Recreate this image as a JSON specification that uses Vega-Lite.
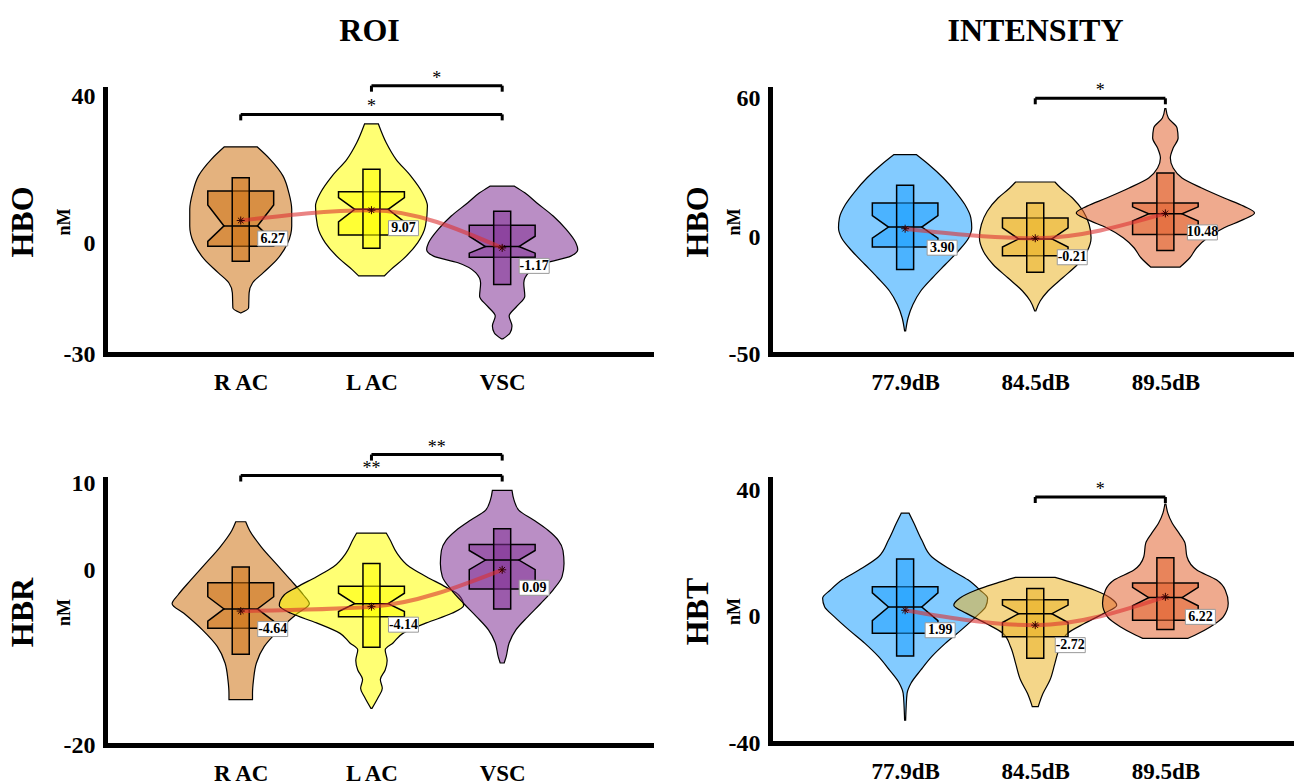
{
  "$schema": "https://vega.github.io/schema/vega-lite/v6.json",
  "background": "white",
  "padding": {"left": 6, "top": 14, "right": 0, "bottom": 0},
  "config": {
    "font": "Liberation Serif",
    "locale": {"number": {"decimal": ".", "thousands": ",", "grouping": [3], "currency": ["", ""], "minus": "-"}},
    "view": {"stroke": null},
    "axis": {
      "domainColor": "black", "domainWidth": 5, "domainCap": "square",
      "ticks": false, "tickSize": 0, "grid": false,
      "labelFont": "Liberation Serif", "labelFontWeight": "bold", "labelColor": "black",
      "titleFont": "Liberation Serif", "titleFontWeight": "bold", "titleColor": "black"
    },
    "axisX": {"labelFontSize": 23, "labelPadding": 17},
    "axisY": {"labelFontSize": 24, "labelPadding": 10, "titleFontSize": 18, "titlePadding": -10},
    "axisTop": {"domain": false, "labels": false, "titleFontSize": 32, "titlePadding": 42},
    "title": {"font": "Liberation Serif", "fontWeight": "bold", "color": "black"}
  },
  "columns": 2,
  "bounds": "flush",
  "spacing": {"row": 125, "column": 119},
  "resolve": {"scale": {"color": "independent"}},
  "concat": [
    {
      "width": 546, "height": 265,
      "resolve": {"axis": {"x": "independent", "y": "independent"}},
      "layer": [
        {
          "data": {"name": "roi_hbo_violin"},
          "mark": {"type": "area", "orient": "horizontal", "interpolate": "monotone", "fillOpacity": 0.55, "stroke": "black", "strokeWidth": 1.2},
          "encoding": {
            "y": {"field": "nM", "type": "quantitative", "scale": {"domain": [-30, 42], "nice": false, "zero": false}, "axis": {"values": [-30, 0, 40], "title": "nM"}},
            "x": {"field": "lo", "type": "quantitative", "scale": {"domain": [0, 4.1], "nice": false, "zero": false}, "axis": {"orient": "bottom", "values": [1, 2, 3], "labelExpr": "datum.value == 1 ? 'R AC' : datum.value == 2 ? 'L AC' : 'VSC'", "title": null}},
            "x2": {"field": "hi"},
            "color": {"field": "g", "type": "nominal", "scale": {"domain": ["R AC", "L AC", "VSC"], "range": ["#cd7314", "#ffff00", "#823296"]}, "legend": null}
          }
        },
        {
          "data": {"name": "roi_hbo_box"},
          "mark": {"type": "area", "orient": "horizontal", "interpolate": "linear", "fillOpacity": 0.55, "stroke": "black", "strokeWidth": 1.5},
          "encoding": {
            "y": {"field": "nM", "type": "quantitative", "axis": {"orient": "left", "title": "HBO", "domain": false, "labels": false, "offset": 66, "titlePadding": 0, "titleFontSize": 32}},
            "x": {"field": "lo", "type": "quantitative", "axis": {"orient": "top", "title": "ROI", "titleX": 264}},
            "x2": {"field": "hi"},
            "color": {"field": "g", "type": "nominal", "legend": null}
          }
        },
        {
          "data": {"name": "roi_hbo_stats"},
          "resolve": {"axis": {"x": "independent", "y": "independent"}},
          "layer": [
            {"mark": {"type": "bar", "width": 17, "fillOpacity": 0.55, "stroke": "black", "strokeWidth": 1.5},
             "encoding": {"x": {"field": "pos", "type": "quantitative", "axis": null}, "y": {"field": "p_lo", "type": "quantitative", "axis": null}, "y2": {"field": "p_hi"}, "color": {"field": "g", "type": "nominal", "legend": null}}},
            {"mark": {"type": "tick", "orient": "horizontal", "size": 34, "thickness": 1.5, "color": "black", "opacity": 1},
             "encoding": {"x": {"field": "pos", "type": "quantitative", "axis": null}, "y": {"field": "median", "type": "quantitative", "axis": null}}},
            {"mark": {"type": "line", "interpolate": "monotone", "color": "#dc3030", "strokeWidth": 4, "opacity": 0.6},
             "encoding": {"x": {"field": "pos", "type": "quantitative", "axis": null}, "y": {"field": "mean", "type": "quantitative", "axis": null}, "order": {"field": "pos"}}},
            {"mark": {"type": "point", "shape": "M-4,0H4M0,-4V4M-2.8,-2.8L2.8,2.8M-2.8,2.8L2.8,-2.8", "size": 4, "filled": false, "stroke": "#330000", "strokeWidth": 1, "opacity": 1},
             "encoding": {"x": {"field": "pos", "type": "quantitative", "axis": null}, "y": {"field": "mean", "type": "quantitative", "axis": null}}},
            {"mark": {"type": "point", "shape": "M17,10.5H47V25.5H17Z", "size": 4, "filled": true, "fill": "white", "stroke": "#9a9a9a", "strokeWidth": 1, "opacity": 1},
             "encoding": {"x": {"field": "pos", "type": "quantitative", "axis": null}, "y": {"field": "mean", "type": "quantitative", "axis": null}}},
            {"mark": {"type": "text", "dx": 32, "dy": 18, "align": "center", "baseline": "middle", "fontSize": 14, "fontWeight": "bold", "color": "black"},
             "encoding": {"x": {"field": "pos", "type": "quantitative", "axis": null}, "y": {"field": "mean", "type": "quantitative", "axis": null}, "text": {"field": "mean", "type": "quantitative", "format": ".2f"}}}
          ]
        },
        {
          "data": {"name": "roi_hbo_sig"},
          "resolve": {"axis": {"x": "independent", "y": "independent"}},
          "layer": [
            {"mark": {"type": "rule", "strokeWidth": 3, "color": "black"},
             "encoding": {"x": {"field": "from", "type": "quantitative", "axis": null}, "x2": {"field": "to"}, "y": {"field": "nM", "type": "quantitative", "axis": null}}},
            {"mark": {"type": "point", "shape": "M0,0V6", "size": 4, "filled": false, "stroke": "black", "strokeWidth": 3, "opacity": 1},
             "encoding": {"x": {"field": "from", "type": "quantitative", "axis": null}, "y": {"field": "nM", "type": "quantitative", "axis": null}}},
            {"mark": {"type": "point", "shape": "M0,0V6", "size": 4, "filled": false, "stroke": "black", "strokeWidth": 3, "opacity": 1},
             "encoding": {"x": {"field": "to", "type": "quantitative", "axis": null}, "y": {"field": "nM", "type": "quantitative", "axis": null}}},
            {"mark": {"type": "text", "baseline": "alphabetic", "dy": -2, "fontSize": 18, "color": "black"},
             "encoding": {"x": {"field": "mid", "type": "quantitative", "axis": null}, "y": {"field": "nM", "type": "quantitative", "axis": null}, "text": {"field": "sig"}}}
          ]
        }
      ]
    },
    {
      "width": 524, "height": 265,
      "resolve": {"axis": {"x": "independent", "y": "independent"}},
      "layer": [
        {
          "data": {"name": "int_hbo_violin"},
          "mark": {"type": "area", "orient": "horizontal", "interpolate": "monotone", "fillOpacity": 0.55, "stroke": "black", "strokeWidth": 1.2},
          "encoding": {
            "y": {"field": "nM", "type": "quantitative", "scale": {"domain": [-50, 64], "nice": false, "zero": false}, "axis": {"values": [-50, 0, 60], "title": "nM", "titlePadding": -15}},
            "x": {"field": "lo", "type": "quantitative", "scale": {"domain": [0, 3.95], "nice": false, "zero": false}, "axis": {"orient": "bottom", "values": [1, 2, 3], "labelExpr": "datum.value == 1 ? '77.9dB' : datum.value == 2 ? '84.5dB' : '89.5dB'", "title": null}},
            "x2": {"field": "hi"},
            "color": {"field": "g", "type": "nominal", "scale": {"domain": ["77.9dB", "84.5dB", "89.5dB"], "range": ["#1ea0ff", "#ebb428", "#e16432"]}, "legend": null}
          }
        },
        {
          "data": {"name": "int_hbo_box"},
          "mark": {"type": "area", "orient": "horizontal", "interpolate": "linear", "fillOpacity": 0.55, "stroke": "black", "strokeWidth": 1.5},
          "encoding": {
            "y": {"field": "nM", "type": "quantitative", "axis": {"orient": "left", "title": "HBO", "domain": false, "labels": false, "offset": 56, "titlePadding": 0, "titleFontSize": 32}},
            "x": {"field": "lo", "type": "quantitative", "axis": {"orient": "top", "title": "INTENSITY", "titleX": 265}},
            "x2": {"field": "hi"},
            "color": {"field": "g", "type": "nominal", "legend": null}
          }
        },
        {
          "data": {"name": "int_hbo_stats"},
          "resolve": {"axis": {"x": "independent", "y": "independent"}},
          "layer": [
            {"mark": {"type": "bar", "width": 17, "fillOpacity": 0.55, "stroke": "black", "strokeWidth": 1.5},
             "encoding": {"x": {"field": "pos", "type": "quantitative", "axis": null}, "y": {"field": "p_lo", "type": "quantitative", "axis": null}, "y2": {"field": "p_hi"}, "color": {"field": "g", "type": "nominal", "legend": null}}},
            {"mark": {"type": "tick", "orient": "horizontal", "size": 34, "thickness": 1.5, "color": "black", "opacity": 1},
             "encoding": {"x": {"field": "pos", "type": "quantitative", "axis": null}, "y": {"field": "median", "type": "quantitative", "axis": null}}},
            {"mark": {"type": "line", "interpolate": "monotone", "color": "#dc3030", "strokeWidth": 4, "opacity": 0.6},
             "encoding": {"x": {"field": "pos", "type": "quantitative", "axis": null}, "y": {"field": "mean", "type": "quantitative", "axis": null}, "order": {"field": "pos"}}},
            {"mark": {"type": "point", "shape": "M-4,0H4M0,-4V4M-2.8,-2.8L2.8,2.8M-2.8,2.8L2.8,-2.8", "size": 4, "filled": false, "stroke": "#330000", "strokeWidth": 1, "opacity": 1},
             "encoding": {"x": {"field": "pos", "type": "quantitative", "axis": null}, "y": {"field": "mean", "type": "quantitative", "axis": null}}},
            {"mark": {"type": "point", "shape": "M22,11.5H52V26.5H22Z", "size": 4, "filled": true, "fill": "white", "stroke": "#9a9a9a", "strokeWidth": 1, "opacity": 1},
             "encoding": {"x": {"field": "pos", "type": "quantitative", "axis": null}, "y": {"field": "mean", "type": "quantitative", "axis": null}}},
            {"mark": {"type": "text", "dx": 37, "dy": 19, "align": "center", "baseline": "middle", "fontSize": 14, "fontWeight": "bold", "color": "black"},
             "encoding": {"x": {"field": "pos", "type": "quantitative", "axis": null}, "y": {"field": "mean", "type": "quantitative", "axis": null}, "text": {"field": "mean", "type": "quantitative", "format": ".2f"}}}
          ]
        },
        {
          "data": {"name": "int_hbo_sig"},
          "resolve": {"axis": {"x": "independent", "y": "independent"}},
          "layer": [
            {"mark": {"type": "rule", "strokeWidth": 3, "color": "black"},
             "encoding": {"x": {"field": "from", "type": "quantitative", "axis": null}, "x2": {"field": "to"}, "y": {"field": "nM", "type": "quantitative", "axis": null}}},
            {"mark": {"type": "point", "shape": "M0,0V6", "size": 4, "filled": false, "stroke": "black", "strokeWidth": 3, "opacity": 1},
             "encoding": {"x": {"field": "from", "type": "quantitative", "axis": null}, "y": {"field": "nM", "type": "quantitative", "axis": null}}},
            {"mark": {"type": "point", "shape": "M0,0V6", "size": 4, "filled": false, "stroke": "black", "strokeWidth": 3, "opacity": 1},
             "encoding": {"x": {"field": "to", "type": "quantitative", "axis": null}, "y": {"field": "nM", "type": "quantitative", "axis": null}}},
            {"mark": {"type": "text", "baseline": "alphabetic", "dy": -2, "fontSize": 18, "color": "black"},
             "encoding": {"x": {"field": "mid", "type": "quantitative", "axis": null}, "y": {"field": "nM", "type": "quantitative", "axis": null}, "text": {"field": "sig"}}}
          ]
        }
      ]
    },
    {
      "width": 546, "height": 266,
      "resolve": {"axis": {"x": "independent", "y": "independent"}},
      "layer": [
        {
          "data": {"name": "roi_hbr_violin"},
          "mark": {"type": "area", "orient": "horizontal", "interpolate": "monotone", "fillOpacity": 0.55, "stroke": "black", "strokeWidth": 1.2},
          "encoding": {
            "y": {"field": "nM", "type": "quantitative", "scale": {"domain": [-20, 10.5], "nice": false, "zero": false}, "axis": {"values": [-20, 0, 10], "title": "nM"}},
            "x": {"field": "lo", "type": "quantitative", "scale": {"domain": [0, 4.1], "nice": false, "zero": false}, "axis": {"orient": "bottom", "values": [1, 2, 3], "labelExpr": "datum.value == 1 ? 'R AC' : datum.value == 2 ? 'L AC' : 'VSC'", "title": null}},
            "x2": {"field": "hi"},
            "color": {"field": "g", "type": "nominal", "scale": {"domain": ["R AC", "L AC", "VSC"], "range": ["#cd7314", "#ffff00", "#823296"]}, "legend": null}
          }
        },
        {
          "data": {"name": "roi_hbr_box"},
          "mark": {"type": "area", "orient": "horizontal", "interpolate": "linear", "fillOpacity": 0.55, "stroke": "black", "strokeWidth": 1.5},
          "encoding": {
            "y": {"field": "nM", "type": "quantitative", "axis": {"orient": "left", "title": "HBR", "domain": false, "labels": false, "offset": 66, "titlePadding": 0, "titleFontSize": 32}},
            "x": {"field": "lo", "type": "quantitative", "axis": null},
            "x2": {"field": "hi"},
            "color": {"field": "g", "type": "nominal", "legend": null}
          }
        },
        {
          "data": {"name": "roi_hbr_stats"},
          "resolve": {"axis": {"x": "independent", "y": "independent"}},
          "layer": [
            {"mark": {"type": "bar", "width": 17, "fillOpacity": 0.55, "stroke": "black", "strokeWidth": 1.5},
             "encoding": {"x": {"field": "pos", "type": "quantitative", "axis": null}, "y": {"field": "p_lo", "type": "quantitative", "axis": null}, "y2": {"field": "p_hi"}, "color": {"field": "g", "type": "nominal", "legend": null}}},
            {"mark": {"type": "tick", "orient": "horizontal", "size": 34, "thickness": 1.5, "color": "black", "opacity": 1},
             "encoding": {"x": {"field": "pos", "type": "quantitative", "axis": null}, "y": {"field": "median", "type": "quantitative", "axis": null}}},
            {"mark": {"type": "line", "interpolate": "monotone", "color": "#dc3030", "strokeWidth": 4, "opacity": 0.6},
             "encoding": {"x": {"field": "pos", "type": "quantitative", "axis": null}, "y": {"field": "mean", "type": "quantitative", "axis": null}, "order": {"field": "pos"}}},
            {"mark": {"type": "point", "shape": "M-4,0H4M0,-4V4M-2.8,-2.8L2.8,2.8M-2.8,2.8L2.8,-2.8", "size": 4, "filled": false, "stroke": "#330000", "strokeWidth": 1, "opacity": 1},
             "encoding": {"x": {"field": "pos", "type": "quantitative", "axis": null}, "y": {"field": "mean", "type": "quantitative", "axis": null}}},
            {"mark": {"type": "point", "shape": "M17,10.5H47V25.5H17Z", "size": 4, "filled": true, "fill": "white", "stroke": "#9a9a9a", "strokeWidth": 1, "opacity": 1},
             "encoding": {"x": {"field": "pos", "type": "quantitative", "axis": null}, "y": {"field": "mean", "type": "quantitative", "axis": null}}},
            {"mark": {"type": "text", "dx": 32, "dy": 18, "align": "center", "baseline": "middle", "fontSize": 14, "fontWeight": "bold", "color": "black"},
             "encoding": {"x": {"field": "pos", "type": "quantitative", "axis": null}, "y": {"field": "mean", "type": "quantitative", "axis": null}, "text": {"field": "mean", "type": "quantitative", "format": ".2f"}}}
          ]
        },
        {
          "data": {"name": "roi_hbr_sig"},
          "resolve": {"axis": {"x": "independent", "y": "independent"}},
          "layer": [
            {"mark": {"type": "rule", "strokeWidth": 3, "color": "black"},
             "encoding": {"x": {"field": "from", "type": "quantitative", "axis": null}, "x2": {"field": "to"}, "y": {"field": "nM", "type": "quantitative", "axis": null}}},
            {"mark": {"type": "point", "shape": "M0,0V6", "size": 4, "filled": false, "stroke": "black", "strokeWidth": 3, "opacity": 1},
             "encoding": {"x": {"field": "from", "type": "quantitative", "axis": null}, "y": {"field": "nM", "type": "quantitative", "axis": null}}},
            {"mark": {"type": "point", "shape": "M0,0V6", "size": 4, "filled": false, "stroke": "black", "strokeWidth": 3, "opacity": 1},
             "encoding": {"x": {"field": "to", "type": "quantitative", "axis": null}, "y": {"field": "nM", "type": "quantitative", "axis": null}}},
            {"mark": {"type": "text", "baseline": "alphabetic", "dy": -2, "fontSize": 18, "color": "black"},
             "encoding": {"x": {"field": "mid", "type": "quantitative", "axis": null}, "y": {"field": "nM", "type": "quantitative", "axis": null}, "text": {"field": "sig"}}}
          ]
        }
      ]
    },
    {
      "width": 524, "height": 264,
      "resolve": {"axis": {"x": "independent", "y": "independent"}},
      "layer": [
        {
          "data": {"name": "int_hbt_violin"},
          "mark": {"type": "area", "orient": "horizontal", "interpolate": "monotone", "fillOpacity": 0.55, "stroke": "black", "strokeWidth": 1.2},
          "encoding": {
            "y": {"field": "nM", "type": "quantitative", "scale": {"domain": [-40, 43.5], "nice": false, "zero": false}, "axis": {"values": [-40, 0, 40], "title": "nM", "titlePadding": -15}},
            "x": {"field": "lo", "type": "quantitative", "scale": {"domain": [0, 3.95], "nice": false, "zero": false}, "axis": {"orient": "bottom", "values": [1, 2, 3], "labelExpr": "datum.value == 1 ? '77.9dB' : datum.value == 2 ? '84.5dB' : '89.5dB'", "title": null}},
            "x2": {"field": "hi"},
            "color": {"field": "g", "type": "nominal", "scale": {"domain": ["77.9dB", "84.5dB", "89.5dB"], "range": ["#1ea0ff", "#ebb428", "#e16432"]}, "legend": null}
          }
        },
        {
          "data": {"name": "int_hbt_box"},
          "mark": {"type": "area", "orient": "horizontal", "interpolate": "linear", "fillOpacity": 0.55, "stroke": "black", "strokeWidth": 1.5},
          "encoding": {
            "y": {"field": "nM", "type": "quantitative", "axis": {"orient": "left", "title": "HBT", "domain": false, "labels": false, "offset": 56, "titlePadding": 0, "titleFontSize": 32}},
            "x": {"field": "lo", "type": "quantitative", "axis": null},
            "x2": {"field": "hi"},
            "color": {"field": "g", "type": "nominal", "legend": null}
          }
        },
        {
          "data": {"name": "int_hbt_stats"},
          "resolve": {"axis": {"x": "independent", "y": "independent"}},
          "layer": [
            {"mark": {"type": "bar", "width": 17, "fillOpacity": 0.55, "stroke": "black", "strokeWidth": 1.5},
             "encoding": {"x": {"field": "pos", "type": "quantitative", "axis": null}, "y": {"field": "p_lo", "type": "quantitative", "axis": null}, "y2": {"field": "p_hi"}, "color": {"field": "g", "type": "nominal", "legend": null}}},
            {"mark": {"type": "tick", "orient": "horizontal", "size": 34, "thickness": 1.5, "color": "black", "opacity": 1},
             "encoding": {"x": {"field": "pos", "type": "quantitative", "axis": null}, "y": {"field": "median", "type": "quantitative", "axis": null}}},
            {"mark": {"type": "line", "interpolate": "monotone", "color": "#dc3030", "strokeWidth": 4, "opacity": 0.6},
             "encoding": {"x": {"field": "pos", "type": "quantitative", "axis": null}, "y": {"field": "mean", "type": "quantitative", "axis": null}, "order": {"field": "pos"}}},
            {"mark": {"type": "point", "shape": "M-4,0H4M0,-4V4M-2.8,-2.8L2.8,2.8M-2.8,2.8L2.8,-2.8", "size": 4, "filled": false, "stroke": "#330000", "strokeWidth": 1, "opacity": 1},
             "encoding": {"x": {"field": "pos", "type": "quantitative", "axis": null}, "y": {"field": "mean", "type": "quantitative", "axis": null}}},
            {"mark": {"type": "point", "shape": "M20,12.5H50V27.5H20Z", "size": 4, "filled": true, "fill": "white", "stroke": "#9a9a9a", "strokeWidth": 1, "opacity": 1},
             "encoding": {"x": {"field": "pos", "type": "quantitative", "axis": null}, "y": {"field": "mean", "type": "quantitative", "axis": null}}},
            {"mark": {"type": "text", "dx": 35, "dy": 20, "align": "center", "baseline": "middle", "fontSize": 14, "fontWeight": "bold", "color": "black"},
             "encoding": {"x": {"field": "pos", "type": "quantitative", "axis": null}, "y": {"field": "mean", "type": "quantitative", "axis": null}, "text": {"field": "mean", "type": "quantitative", "format": ".2f"}}}
          ]
        },
        {
          "data": {"name": "int_hbt_sig"},
          "resolve": {"axis": {"x": "independent", "y": "independent"}},
          "layer": [
            {"mark": {"type": "rule", "strokeWidth": 3, "color": "black"},
             "encoding": {"x": {"field": "from", "type": "quantitative", "axis": null}, "x2": {"field": "to"}, "y": {"field": "nM", "type": "quantitative", "axis": null}}},
            {"mark": {"type": "point", "shape": "M0,0V6", "size": 4, "filled": false, "stroke": "black", "strokeWidth": 3, "opacity": 1},
             "encoding": {"x": {"field": "from", "type": "quantitative", "axis": null}, "y": {"field": "nM", "type": "quantitative", "axis": null}}},
            {"mark": {"type": "point", "shape": "M0,0V6", "size": 4, "filled": false, "stroke": "black", "strokeWidth": 3, "opacity": 1},
             "encoding": {"x": {"field": "to", "type": "quantitative", "axis": null}, "y": {"field": "nM", "type": "quantitative", "axis": null}}},
            {"mark": {"type": "text", "baseline": "alphabetic", "dy": -2, "fontSize": 18, "color": "black"},
             "encoding": {"x": {"field": "mid", "type": "quantitative", "axis": null}, "y": {"field": "nM", "type": "quantitative", "axis": null}, "text": {"field": "sig"}}}
          ]
        }
      ]
    }
  ],
  "datasets": {
    "roi_hbo_violin": [
      {"g": "R AC", "nM": 26.3, "lo": 0.875, "hi": 1.125},
      {"g": "R AC", "nM": 22.9, "lo": 0.775, "hi": 1.225},
      {"g": "R AC", "nM": 18.4, "lo": 0.677, "hi": 1.323},
      {"g": "R AC", "nM": 13.8, "lo": 0.632, "hi": 1.368},
      {"g": "R AC", "nM": 9.3, "lo": 0.61, "hi": 1.39},
      {"g": "R AC", "nM": 4.8, "lo": 0.61, "hi": 1.39},
      {"g": "R AC", "nM": 0.2, "lo": 0.64, "hi": 1.36},
      {"g": "R AC", "nM": -4.3, "lo": 0.722, "hi": 1.278},
      {"g": "R AC", "nM": -7.9, "lo": 0.827, "hi": 1.173},
      {"g": "R AC", "nM": -10.7, "lo": 0.91, "hi": 1.09},
      {"g": "R AC", "nM": -13.4, "lo": 0.936, "hi": 1.064},
      {"g": "R AC", "nM": -17.5, "lo": 0.94, "hi": 1.06},
      {"g": "R AC", "nM": -18.8, "lo": 0.996, "hi": 1.004},
      {"g": "L AC", "nM": 32.5, "lo": 1.947, "hi": 2.053},
      {"g": "L AC", "nM": 27.4, "lo": 1.887, "hi": 2.113},
      {"g": "L AC", "nM": 22.9, "lo": 1.812, "hi": 2.188},
      {"g": "L AC", "nM": 18.4, "lo": 1.7, "hi": 2.3},
      {"g": "L AC", "nM": 13.8, "lo": 1.61, "hi": 2.39},
      {"g": "L AC", "nM": 10.2, "lo": 1.572, "hi": 2.428},
      {"g": "L AC", "nM": 4.8, "lo": 1.587, "hi": 2.413},
      {"g": "L AC", "nM": 0.2, "lo": 1.647, "hi": 2.353},
      {"g": "L AC", "nM": -4.3, "lo": 1.76, "hi": 2.24},
      {"g": "L AC", "nM": -7.0, "lo": 1.85, "hi": 2.15},
      {"g": "L AC", "nM": -8.8, "lo": 1.902, "hi": 2.098},
      {"g": "VSC", "nM": 15.6, "lo": 2.906, "hi": 3.094},
      {"g": "VSC", "nM": 13.8, "lo": 2.827, "hi": 3.173},
      {"g": "VSC", "nM": 11.1, "lo": 2.737, "hi": 3.263},
      {"g": "VSC", "nM": 7.5, "lo": 2.61, "hi": 3.39},
      {"g": "VSC", "nM": 3.9, "lo": 2.512, "hi": 3.488},
      {"g": "VSC", "nM": 0.2, "lo": 2.437, "hi": 3.563},
      {"g": "VSC", "nM": -1.6, "lo": 2.422, "hi": 3.578},
      {"g": "VSC", "nM": -3.4, "lo": 2.475, "hi": 3.525},
      {"g": "VSC", "nM": -5.2, "lo": 2.662, "hi": 3.338},
      {"g": "VSC", "nM": -7.9, "lo": 2.797, "hi": 3.203},
      {"g": "VSC", "nM": -10.7, "lo": 2.835, "hi": 3.165},
      {"g": "VSC", "nM": -14.3, "lo": 2.827, "hi": 3.173},
      {"g": "VSC", "nM": -17.0, "lo": 2.887, "hi": 3.113},
      {"g": "VSC", "nM": -19.7, "lo": 2.947, "hi": 3.053},
      {"g": "VSC", "nM": -22.4, "lo": 2.925, "hi": 3.075},
      {"g": "VSC", "nM": -24.3, "lo": 2.94, "hi": 3.06},
      {"g": "VSC", "nM": -25.9, "lo": 2.996, "hi": 3.004}
    ],
    "roi_hbo_box": [
      {"g": "R AC", "nM": 14.3, "lo": 0.748, "hi": 1.252},
      {"g": "R AC", "nM": 10.5, "lo": 0.748, "hi": 1.252},
      {"g": "R AC", "nM": 4.8, "lo": 0.872, "hi": 1.128},
      {"g": "R AC", "nM": 0.6, "lo": 0.748, "hi": 1.252},
      {"g": "R AC", "nM": -0.7, "lo": 0.748, "hi": 1.252},
      {"g": "L AC", "nM": 14.1, "lo": 1.748, "hi": 2.252},
      {"g": "L AC", "nM": 12.5, "lo": 1.748, "hi": 2.252},
      {"g": "L AC", "nM": 9.3, "lo": 1.872, "hi": 2.128},
      {"g": "L AC", "nM": 5.9, "lo": 1.748, "hi": 2.252},
      {"g": "L AC", "nM": 2.3, "lo": 1.748, "hi": 2.252},
      {"g": "VSC", "nM": 5.0, "lo": 2.748, "hi": 3.252},
      {"g": "VSC", "nM": 2.0, "lo": 2.748, "hi": 3.252},
      {"g": "VSC", "nM": -0.8, "lo": 2.872, "hi": 3.128},
      {"g": "VSC", "nM": -2.6, "lo": 2.748, "hi": 3.252},
      {"g": "VSC", "nM": -3.7, "lo": 2.748, "hi": 3.252}
    ],
    "roi_hbo_stats": [
      {"g": "R AC", "pos": 1, "mean": 6.27, "median": 4.8, "p_lo": -4.8, "p_hi": 17.9},
      {"g": "L AC", "pos": 2, "mean": 9.07, "median": 9.3, "p_lo": -1.3, "p_hi": 20.2},
      {"g": "VSC", "pos": 3, "mean": -1.17, "median": -0.8, "p_lo": -11.1, "p_hi": 8.8}
    ],
    "roi_hbo_sig": [
      {"from": 2, "to": 3, "mid": 2.5, "nM": 42.9, "sig": "*"},
      {"from": 1, "to": 3, "mid": 2, "nM": 35.1, "sig": "*"}
    ],
    "int_hbo_violin": [
      {"g": "77.9dB", "nM": 35.8, "lo": 0.915, "hi": 1.085},
      {"g": "77.9dB", "nM": 31.5, "lo": 0.819, "hi": 1.181},
      {"g": "77.9dB", "nM": 25.7, "lo": 0.706, "hi": 1.294},
      {"g": "77.9dB", "nM": 20.0, "lo": 0.616, "hi": 1.384},
      {"g": "77.9dB", "nM": 14.3, "lo": 0.541, "hi": 1.459},
      {"g": "77.9dB", "nM": 8.6, "lo": 0.495, "hi": 1.505},
      {"g": "77.9dB", "nM": 4.3, "lo": 0.488, "hi": 1.512},
      {"g": "77.9dB", "nM": 0, "lo": 0.511, "hi": 1.489},
      {"g": "77.9dB", "nM": -5.8, "lo": 0.593, "hi": 1.407},
      {"g": "77.9dB", "nM": -11.5, "lo": 0.691, "hi": 1.309},
      {"g": "77.9dB", "nM": -17.2, "lo": 0.789, "hi": 1.211},
      {"g": "77.9dB", "nM": -22.9, "lo": 0.88, "hi": 1.12},
      {"g": "77.9dB", "nM": -28.7, "lo": 0.94, "hi": 1.06},
      {"g": "77.9dB", "nM": -34.4, "lo": 0.977, "hi": 1.023},
      {"g": "77.9dB", "nM": -40.1, "lo": 0.996, "hi": 1.004},
      {"g": "84.5dB", "nM": 24.0, "lo": 1.849, "hi": 2.151},
      {"g": "84.5dB", "nM": 21.4, "lo": 1.804, "hi": 2.196},
      {"g": "84.5dB", "nM": 17.1, "lo": 1.714, "hi": 2.286},
      {"g": "84.5dB", "nM": 11.4, "lo": 1.631, "hi": 2.369},
      {"g": "84.5dB", "nM": 5.7, "lo": 1.586, "hi": 2.414},
      {"g": "84.5dB", "nM": 0, "lo": 1.571, "hi": 2.429},
      {"g": "84.5dB", "nM": -5.8, "lo": 1.601, "hi": 2.399},
      {"g": "84.5dB", "nM": -11.5, "lo": 1.676, "hi": 2.324},
      {"g": "84.5dB", "nM": -17.2, "lo": 1.789, "hi": 2.211},
      {"g": "84.5dB", "nM": -22.9, "lo": 1.902, "hi": 2.098},
      {"g": "84.5dB", "nM": -27.2, "lo": 1.962, "hi": 2.038},
      {"g": "84.5dB", "nM": -31.5, "lo": 1.996, "hi": 2.004},
      {"g": "89.5dB", "nM": 55.6, "lo": 2.996, "hi": 3.004},
      {"g": "89.5dB", "nM": 51.5, "lo": 2.977, "hi": 3.023},
      {"g": "89.5dB", "nM": 47.2, "lo": 2.91, "hi": 3.09},
      {"g": "89.5dB", "nM": 42.9, "lo": 2.902, "hi": 3.098},
      {"g": "89.5dB", "nM": 38.6, "lo": 2.94, "hi": 3.06},
      {"g": "89.5dB", "nM": 34.3, "lo": 2.962, "hi": 3.038},
      {"g": "89.5dB", "nM": 30.0, "lo": 2.94, "hi": 3.06},
      {"g": "89.5dB", "nM": 25.7, "lo": 2.872, "hi": 3.128},
      {"g": "89.5dB", "nM": 21.4, "lo": 2.721, "hi": 3.279},
      {"g": "89.5dB", "nM": 17.1, "lo": 2.548, "hi": 3.452},
      {"g": "89.5dB", "nM": 13.6, "lo": 2.398, "hi": 3.602},
      {"g": "89.5dB", "nM": 10.7, "lo": 2.315, "hi": 3.685},
      {"g": "89.5dB", "nM": 7.9, "lo": 2.398, "hi": 3.602},
      {"g": "89.5dB", "nM": 4.3, "lo": 2.548, "hi": 3.452},
      {"g": "89.5dB", "nM": 0, "lo": 2.676, "hi": 3.324},
      {"g": "89.5dB", "nM": -4.3, "lo": 2.759, "hi": 3.241},
      {"g": "89.5dB", "nM": -8.6, "lo": 2.812, "hi": 3.188},
      {"g": "89.5dB", "nM": -12.6, "lo": 2.887, "hi": 3.113}
    ],
    "int_hbo_box": [
      {"g": "77.9dB", "nM": 15.0, "lo": 0.748, "hi": 1.252},
      {"g": "77.9dB", "nM": 9.5, "lo": 0.748, "hi": 1.252},
      {"g": "77.9dB", "nM": 4.6, "lo": 0.872, "hi": 1.128},
      {"g": "77.9dB", "nM": -0.2, "lo": 0.748, "hi": 1.252},
      {"g": "77.9dB", "nM": -4.0, "lo": 0.748, "hi": 1.252},
      {"g": "84.5dB", "nM": 8.5, "lo": 1.748, "hi": 2.252},
      {"g": "84.5dB", "nM": 4.3, "lo": 1.748, "hi": 2.252},
      {"g": "84.5dB", "nM": -0.5, "lo": 1.872, "hi": 2.128},
      {"g": "84.5dB", "nM": -4.0, "lo": 1.748, "hi": 2.252},
      {"g": "84.5dB", "nM": -7.7, "lo": 1.748, "hi": 2.252},
      {"g": "89.5dB", "nM": 15.0, "lo": 2.748, "hi": 3.252},
      {"g": "89.5dB", "nM": 13.3, "lo": 2.748, "hi": 3.252},
      {"g": "89.5dB", "nM": 10.3, "lo": 2.872, "hi": 3.128},
      {"g": "89.5dB", "nM": 7.2, "lo": 2.748, "hi": 3.252},
      {"g": "89.5dB", "nM": 1.4, "lo": 2.748, "hi": 3.252}
    ],
    "int_hbo_stats": [
      {"g": "77.9dB", "pos": 1, "mean": 3.90, "median": 4.6, "p_lo": -13.6, "p_hi": 22.6},
      {"g": "84.5dB", "pos": 2, "mean": -0.21, "median": -0.5, "p_lo": -14.8, "p_hi": 15.0},
      {"g": "89.5dB", "pos": 3, "mean": 10.48, "median": 10.3, "p_lo": -5.5, "p_hi": 27.9}
    ],
    "int_hbo_sig": [
      {"from": 2, "to": 3, "mid": 2.5, "nM": 60.0, "sig": "*"}
    ],
    "roi_hbr_violin": [
      {"g": "R AC", "nM": 5.6, "lo": 0.962, "hi": 1.038},
      {"g": "R AC", "nM": 4.6, "lo": 0.932, "hi": 1.068},
      {"g": "R AC", "nM": 2.7, "lo": 0.842, "hi": 1.158},
      {"g": "R AC", "nM": 0.8, "lo": 0.73, "hi": 1.27},
      {"g": "R AC", "nM": -1.1, "lo": 0.617, "hi": 1.383},
      {"g": "R AC", "nM": -2.8, "lo": 0.52, "hi": 1.48},
      {"g": "R AC", "nM": -3.8, "lo": 0.475, "hi": 1.525},
      {"g": "R AC", "nM": -4.9, "lo": 0.565, "hi": 1.435},
      {"g": "R AC", "nM": -6.8, "lo": 0.707, "hi": 1.293},
      {"g": "R AC", "nM": -8.7, "lo": 0.82, "hi": 1.18},
      {"g": "R AC", "nM": -10.6, "lo": 0.88, "hi": 1.12},
      {"g": "R AC", "nM": -12.5, "lo": 0.902, "hi": 1.098},
      {"g": "R AC", "nM": -14.1, "lo": 0.91, "hi": 1.09},
      {"g": "R AC", "nM": -14.8, "lo": 0.91, "hi": 1.09},
      {"g": "L AC", "nM": 4.3, "lo": 1.887, "hi": 2.113},
      {"g": "L AC", "nM": 3.5, "lo": 1.857, "hi": 2.143},
      {"g": "L AC", "nM": 2.0, "lo": 1.805, "hi": 2.195},
      {"g": "L AC", "nM": 0.4, "lo": 1.707, "hi": 2.293},
      {"g": "L AC", "nM": -0.7, "lo": 1.58, "hi": 2.42},
      {"g": "L AC", "nM": -1.9, "lo": 1.43, "hi": 2.57},
      {"g": "L AC", "nM": -2.8, "lo": 1.332, "hi": 2.668},
      {"g": "L AC", "nM": -4.0, "lo": 1.295, "hi": 2.705},
      {"g": "L AC", "nM": -4.9, "lo": 1.385, "hi": 2.615},
      {"g": "L AC", "nM": -6.0, "lo": 1.58, "hi": 2.42},
      {"g": "L AC", "nM": -7.2, "lo": 1.76, "hi": 2.24},
      {"g": "L AC", "nM": -8.3, "lo": 1.835, "hi": 2.165},
      {"g": "L AC", "nM": -9.1, "lo": 1.895, "hi": 2.105},
      {"g": "L AC", "nM": -10.3, "lo": 1.88, "hi": 2.12},
      {"g": "L AC", "nM": -11.4, "lo": 1.895, "hi": 2.105},
      {"g": "L AC", "nM": -12.5, "lo": 1.932, "hi": 2.068},
      {"g": "L AC", "nM": -13.5, "lo": 1.917, "hi": 2.083},
      {"g": "L AC", "nM": -14.5, "lo": 1.947, "hi": 2.053},
      {"g": "L AC", "nM": -15.8, "lo": 1.996, "hi": 2.004},
      {"g": "VSC", "nM": 9.2, "lo": 2.925, "hi": 3.075},
      {"g": "VSC", "nM": 8.1, "lo": 2.91, "hi": 3.09},
      {"g": "VSC", "nM": 6.9, "lo": 2.872, "hi": 3.128},
      {"g": "VSC", "nM": 5.8, "lo": 2.76, "hi": 3.24},
      {"g": "VSC", "nM": 4.6, "lo": 2.647, "hi": 3.353},
      {"g": "VSC", "nM": 3.5, "lo": 2.572, "hi": 3.428},
      {"g": "VSC", "nM": 2.3, "lo": 2.535, "hi": 3.465},
      {"g": "VSC", "nM": 0.8, "lo": 2.527, "hi": 3.473},
      {"g": "VSC", "nM": -0.7, "lo": 2.542, "hi": 3.458},
      {"g": "VSC", "nM": -2.2, "lo": 2.61, "hi": 3.39},
      {"g": "VSC", "nM": -3.8, "lo": 2.707, "hi": 3.293},
      {"g": "VSC", "nM": -5.3, "lo": 2.805, "hi": 3.195},
      {"g": "VSC", "nM": -6.8, "lo": 2.895, "hi": 3.105},
      {"g": "VSC", "nM": -8.3, "lo": 2.947, "hi": 3.053},
      {"g": "VSC", "nM": -9.9, "lo": 2.97, "hi": 3.03},
      {"g": "VSC", "nM": -10.6, "lo": 2.985, "hi": 3.015}
    ],
    "roi_hbr_box": [
      {"g": "R AC", "nM": -1.4, "lo": 0.748, "hi": 1.252},
      {"g": "R AC", "nM": -3.0, "lo": 0.748, "hi": 1.252},
      {"g": "R AC", "nM": -4.4, "lo": 0.872, "hi": 1.128},
      {"g": "R AC", "nM": -5.8, "lo": 0.748, "hi": 1.252},
      {"g": "R AC", "nM": -6.6, "lo": 0.748, "hi": 1.252},
      {"g": "L AC", "nM": -1.8, "lo": 1.748, "hi": 2.252},
      {"g": "L AC", "nM": -2.6, "lo": 1.748, "hi": 2.252},
      {"g": "L AC", "nM": -3.8, "lo": 1.872, "hi": 2.128},
      {"g": "L AC", "nM": -4.7, "lo": 1.748, "hi": 2.252},
      {"g": "L AC", "nM": -5.3, "lo": 1.748, "hi": 2.252},
      {"g": "VSC", "nM": 3.0, "lo": 2.748, "hi": 3.252},
      {"g": "VSC", "nM": 2.3, "lo": 2.748, "hi": 3.252},
      {"g": "VSC", "nM": 1.2, "lo": 2.872, "hi": 3.128},
      {"g": "VSC", "nM": 0.1, "lo": 2.748, "hi": 3.252},
      {"g": "VSC", "nM": -2.1, "lo": 2.748, "hi": 3.252}
    ],
    "roi_hbr_stats": [
      {"g": "R AC", "pos": 1, "mean": -4.64, "median": -4.4, "p_lo": -9.6, "p_hi": 0.4},
      {"g": "L AC", "pos": 2, "mean": -4.14, "median": -3.8, "p_lo": -8.8, "p_hi": 0.8},
      {"g": "VSC", "pos": 3, "mean": 0.09, "median": 1.2, "p_lo": -4.4, "p_hi": 4.8}
    ],
    "roi_hbr_sig": [
      {"from": 2, "to": 3, "mid": 2.5, "nM": 13.3, "sig": "**"},
      {"from": 1, "to": 3, "mid": 2, "nM": 10.9, "sig": "**"}
    ],
    "int_hbt_violin": [
      {"g": "77.9dB", "nM": 32.7, "lo": 0.97, "hi": 1.03},
      {"g": "77.9dB", "nM": 29.5, "lo": 0.932, "hi": 1.068},
      {"g": "77.9dB", "nM": 24.2, "lo": 0.872, "hi": 1.128},
      {"g": "77.9dB", "nM": 18.9, "lo": 0.796, "hi": 1.204},
      {"g": "77.9dB", "nM": 14.7, "lo": 0.645, "hi": 1.355},
      {"g": "77.9dB", "nM": 11.6, "lo": 0.517, "hi": 1.483},
      {"g": "77.9dB", "nM": 8.4, "lo": 0.426, "hi": 1.574},
      {"g": "77.9dB", "nM": 5.8, "lo": 0.366, "hi": 1.634},
      {"g": "77.9dB", "nM": 3.1, "lo": 0.381, "hi": 1.619},
      {"g": "77.9dB", "nM": -0.1, "lo": 0.457, "hi": 1.543},
      {"g": "77.9dB", "nM": -4.3, "lo": 0.57, "hi": 1.43},
      {"g": "77.9dB", "nM": -8.5, "lo": 0.691, "hi": 1.309},
      {"g": "77.9dB", "nM": -12.7, "lo": 0.796, "hi": 1.204},
      {"g": "77.9dB", "nM": -16.9, "lo": 0.879, "hi": 1.121},
      {"g": "77.9dB", "nM": -21.1, "lo": 0.955, "hi": 1.045},
      {"g": "77.9dB", "nM": -24.3, "lo": 0.985, "hi": 1.015},
      {"g": "77.9dB", "nM": -28.5, "lo": 0.992, "hi": 1.008},
      {"g": "77.9dB", "nM": -32.8, "lo": 0.996, "hi": 1.004},
      {"g": "84.5dB", "nM": 12.4, "lo": 1.849, "hi": 2.151},
      {"g": "84.5dB", "nM": 10.5, "lo": 1.698, "hi": 2.302},
      {"g": "84.5dB", "nM": 8.4, "lo": 1.547, "hi": 2.453},
      {"g": "84.5dB", "nM": 5.8, "lo": 1.419, "hi": 2.581},
      {"g": "84.5dB", "nM": 3.6, "lo": 1.374, "hi": 2.626},
      {"g": "84.5dB", "nM": 1.0, "lo": 1.472, "hi": 2.528},
      {"g": "84.5dB", "nM": -2.2, "lo": 1.623, "hi": 2.377},
      {"g": "84.5dB", "nM": -5.3, "lo": 1.751, "hi": 2.249},
      {"g": "84.5dB", "nM": -9.6, "lo": 1.811, "hi": 2.189},
      {"g": "84.5dB", "nM": -14.8, "lo": 1.849, "hi": 2.151},
      {"g": "84.5dB", "nM": -20.1, "lo": 1.887, "hi": 2.113},
      {"g": "84.5dB", "nM": -24.3, "lo": 1.94, "hi": 2.06},
      {"g": "84.5dB", "nM": -28.5, "lo": 1.977, "hi": 2.023},
      {"g": "89.5dB", "nM": 35.6, "lo": 2.996, "hi": 3.004},
      {"g": "89.5dB", "nM": 32.7, "lo": 2.981, "hi": 3.019},
      {"g": "89.5dB", "nM": 29.5, "lo": 2.947, "hi": 3.053},
      {"g": "89.5dB", "nM": 26.3, "lo": 2.894, "hi": 3.106},
      {"g": "89.5dB", "nM": 23.2, "lo": 2.849, "hi": 3.151},
      {"g": "89.5dB", "nM": 18.9, "lo": 2.834, "hi": 3.166},
      {"g": "89.5dB", "nM": 14.7, "lo": 2.758, "hi": 3.242},
      {"g": "89.5dB", "nM": 11.6, "lo": 2.608, "hi": 3.392},
      {"g": "89.5dB", "nM": 8.4, "lo": 2.54, "hi": 3.46},
      {"g": "89.5dB", "nM": 4.2, "lo": 2.517, "hi": 3.483},
      {"g": "89.5dB", "nM": -0.1, "lo": 2.555, "hi": 3.445},
      {"g": "89.5dB", "nM": -3.2, "lo": 2.653, "hi": 3.347},
      {"g": "89.5dB", "nM": -5.9, "lo": 2.774, "hi": 3.226},
      {"g": "89.5dB", "nM": -6.9, "lo": 2.826, "hi": 3.174}
    ],
    "int_hbt_box": [
      {"g": "77.9dB", "nM": 9.4, "lo": 0.748, "hi": 1.252},
      {"g": "77.9dB", "nM": 7.5, "lo": 0.748, "hi": 1.252},
      {"g": "77.9dB", "nM": 3.0, "lo": 0.872, "hi": 1.128},
      {"g": "77.9dB", "nM": -1.3, "lo": 0.748, "hi": 1.252},
      {"g": "77.9dB", "nM": -5.3, "lo": 0.748, "hi": 1.252},
      {"g": "84.5dB", "nM": 5.3, "lo": 1.748, "hi": 2.252},
      {"g": "84.5dB", "nM": 3.6, "lo": 1.748, "hi": 2.252},
      {"g": "84.5dB", "nM": 0.9, "lo": 1.872, "hi": 2.128},
      {"g": "84.5dB", "nM": -1.9, "lo": 1.748, "hi": 2.252},
      {"g": "84.5dB", "nM": -6.4, "lo": 1.748, "hi": 2.252},
      {"g": "89.5dB", "nM": 10.6, "lo": 2.748, "hi": 3.252},
      {"g": "89.5dB", "nM": 9.2, "lo": 2.748, "hi": 3.252},
      {"g": "89.5dB", "nM": 6.0, "lo": 2.872, "hi": 3.128},
      {"g": "89.5dB", "nM": 3.4, "lo": 2.748, "hi": 3.252},
      {"g": "89.5dB", "nM": -1.2, "lo": 2.748, "hi": 3.252}
    ],
    "int_hbt_stats": [
      {"g": "77.9dB", "pos": 1, "mean": 1.99, "median": 3.0, "p_lo": -12.5, "p_hi": 18.2},
      {"g": "84.5dB", "pos": 2, "mean": -2.72, "median": 0.9, "p_lo": -13.2, "p_hi": 8.9},
      {"g": "89.5dB", "pos": 3, "mean": 6.22, "median": 6.0, "p_lo": -4.1, "p_hi": 18.6}
    ],
    "int_hbt_sig": [
      {"from": 2, "to": 3, "mid": 2.5, "nM": 37.8, "sig": "*"}
    ]
  }
}
